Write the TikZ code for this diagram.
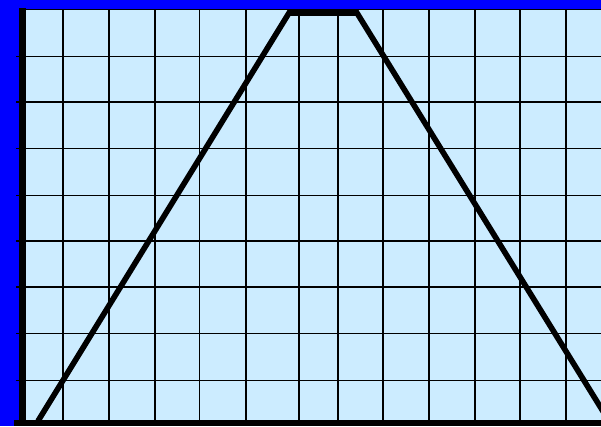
\documentclass[tikz,border=0pt]{standalone}
\usetikzlibrary{positioning}
\definecolor{cielo}{HTML}{CCECFF}
\definecolor{bordo}{HTML}{0000FF}

\begin{document}
\begin{tikzpicture}[
  x=0.02cm, y=-0.02cm,
  griglia/.style={draw=black, line width=1.1pt},
  tacca/.style={draw=black, line width=1.1pt},
  asse/.style={fill=black},
  profilo/.style={draw=black, line width=3.2pt, line join=miter}
]
\useasboundingbox (0,0) rectangle (601,426);
\clip (0,0) rectangle (601,426);

% ---- sfondo blu e area del grafico ----------------------------------
\fill[bordo] (0,0) rectangle (601,426);
\fill[cielo] (25,10) rectangle (601,420);

% ---- griglia ---------------------------------------------------------
\foreach \x in {63,109,155,199.5,245.7,299.3,337.7,383,429,475,520,565.7} {
  \draw[griglia] (\x,10) -- (\x,420);
}
\foreach \y in {56.5,102,148.5,195.5,241,287,333.5,380.5} {
  \draw[griglia] (25,\y) -- (601,\y);
  \draw[tacca] (16,\y) -- (22,\y);
}
\draw[griglia] (25,9.5) -- (601,9.5);

% ---- assi ------------------------------------------------------------
\fill[asse] (19,8) rectangle (25.5,426);
\fill[asse] (14,419.5) rectangle (601,426);

% ---- profilo trapezoidale --------------------------------------------
\draw[profilo] (38,421) -- (289,13) -- (357,13) -- (609,421);

\end{tikzpicture}
\end{document}
